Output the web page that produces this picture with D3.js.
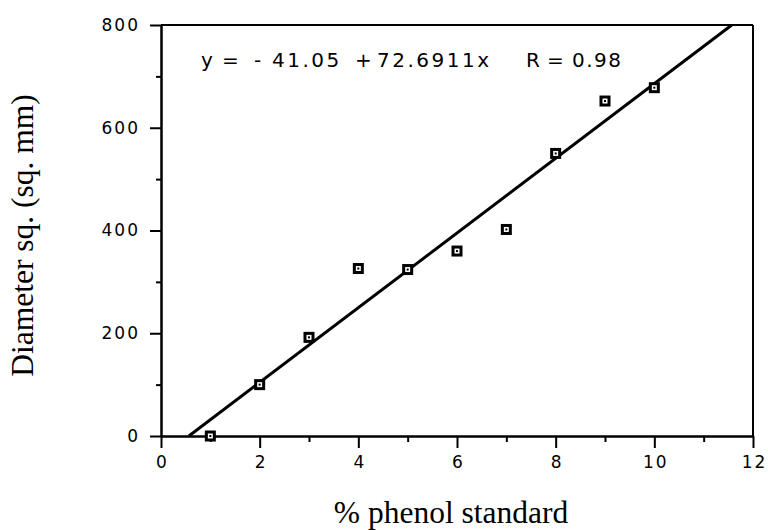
<!DOCTYPE html>
<html>
<head>
<meta charset="utf-8">
<script src="https://cdn.jsdelivr.net/npm/d3@7"></script>
<style>
  html, body { margin: 0; padding: 0; background: #fff; }
  svg { display: block; }
  .tick text { font-family: "DejaVu Sans", sans-serif; font-size: 17px; letter-spacing: 2px; fill: #000; }
  .axis path, .axis line { stroke: #000; stroke-width: 2; }
  .eq { font-family: "DejaVu Sans", sans-serif; font-size: 20px; letter-spacing: 2.5px; fill: #000; }
</style>
</head>
<body>
<script>
// Phenol standard calibration: % phenol vs zone diameter squared
const percentPhenol = [1, 2, 3, 4, 5, 6, 7, 8, 9, 10];
const diameterSq    = [0, 100, 192, 326, 324, 360, 402, 550, 652, 678];

// Least-squares fit reported on the chart
const fitIntercept = -41.05;
const fitSlope = 72.6911;
const fitR = 0.98;

const xMajorTicks = [0, 2, 4, 6, 8, 10, 12];
const xMinorTicks = [1, 3, 5, 7, 9, 11];
const yMajorTicks = [0, 200, 400, 600, 800];
const yMinorTicks = [100, 300, 500, 700];

const W = 768, H = 530;
const svg = d3.select("body").append("svg").attr("width", W).attr("height", H);

const x = d3.scaleLinear().domain([0, 12]).range([161, 753]);
const y = d3.scaleLinear().domain([0, 800]).range([436, 25]);

// Frame: top and right edges
svg.append("line").attr("x1", x(0)).attr("x2", x(12)).attr("y1", y(800)).attr("y2", y(800))
  .attr("stroke", "#000").attr("stroke-width", 2);
svg.append("line").attr("x1", x(12)).attr("x2", x(12)).attr("y1", y(800)).attr("y2", y(0))
  .attr("stroke", "#000").attr("stroke-width", 2);

// Minor ticks (no labels)
svg.append("g").attr("class", "axis").attr("transform", `translate(0,${y(0)})`)
  .call(d3.axisBottom(x).tickValues(xMinorTicks).tickSize(6).tickSizeOuter(0).tickFormat(""));
svg.append("g").attr("class", "axis").attr("transform", `translate(${x(0)},0)`)
  .call(d3.axisLeft(y).tickValues(yMinorTicks).tickSize(5).tickSizeOuter(0).tickFormat(""));

// Major ticks with labels
svg.append("g").attr("class", "axis").attr("transform", `translate(0,${y(0)})`)
  .call(d3.axisBottom(x).tickValues(xMajorTicks).tickSize(12).tickSizeOuter(0).tickPadding(8).tickFormat(d3.format("d")))
  .selectAll(".tick text").attr("dx", "1px");
svg.append("g").attr("class", "axis").attr("transform", `translate(${x(0)},0)`)
  .call(d3.axisLeft(y).tickValues(yMajorTicks).tickSize(11).tickSizeOuter(0).tickPadding(10).tickFormat(d3.format("d")));

// Regression line clipped to the plotted y range
const xAt = v => (v - fitIntercept) / fitSlope;
const x0 = Math.max(0, xAt(0)), x1 = Math.min(12, xAt(800));
svg.append("line")
  .attr("x1", x(x0)).attr("y1", y(fitIntercept + fitSlope * x0))
  .attr("x2", x(x1)).attr("y2", y(fitIntercept + fitSlope * x1))
  .attr("stroke", "#000").attr("stroke-width", 3);

// Data markers: open squares with a centre dot
const pts = percentPhenol.map((p, i) => ({ p, d: diameterSq[i] }));
const mk = svg.append("g").selectAll("g").data(pts).join("g")
  .attr("transform", d => `translate(${x(d.p)},${y(d.d)})`);
mk.append("rect").attr("x", -4).attr("y", -4).attr("width", 8).attr("height", 8)
  .attr("fill", "#fff").attr("stroke", "#000").attr("stroke-width", 3);
mk.append("rect").attr("x", -1).attr("y", -1).attr("width", 2).attr("height", 2).attr("fill", "#000");

// Fit equation, set piece by piece
const eq = svg.append("text").attr("class", "eq").attr("y", 67);
eq.append("tspan").attr("x", 201).text("y");
eq.append("tspan").attr("x", 222).text("=");
eq.append("tspan").attr("x", 254).text("-");
eq.append("tspan").attr("x", 272).text(Math.abs(fitIntercept).toFixed(2));
eq.append("tspan").attr("x", 355).text("+");
eq.append("tspan").attr("x", 377).text(`${fitSlope}x`);
eq.append("tspan").attr("x", 526).text("R");
eq.append("tspan").attr("x", 547).text("=");
eq.append("tspan").attr("x", 572).style("letter-spacing", "1.5px").text(`${fitR}`);

// Axis titles
svg.append("text").attr("x", 451).attr("y", 523).attr("text-anchor", "middle")
  .style("font-family", "'Liberation Serif', serif").style("font-size", "31.5px").text("% phenol standard");
svg.append("text").attr("transform", `translate(33,${(y(0) + y(800)) / 2 + 5}) rotate(-90)`)
  .attr("text-anchor", "middle")
  .style("font-family", "'Liberation Serif', serif").style("font-size", "31.5px").text("Diameter sq. (sq. mm)");
</script>
</body>
</html>
